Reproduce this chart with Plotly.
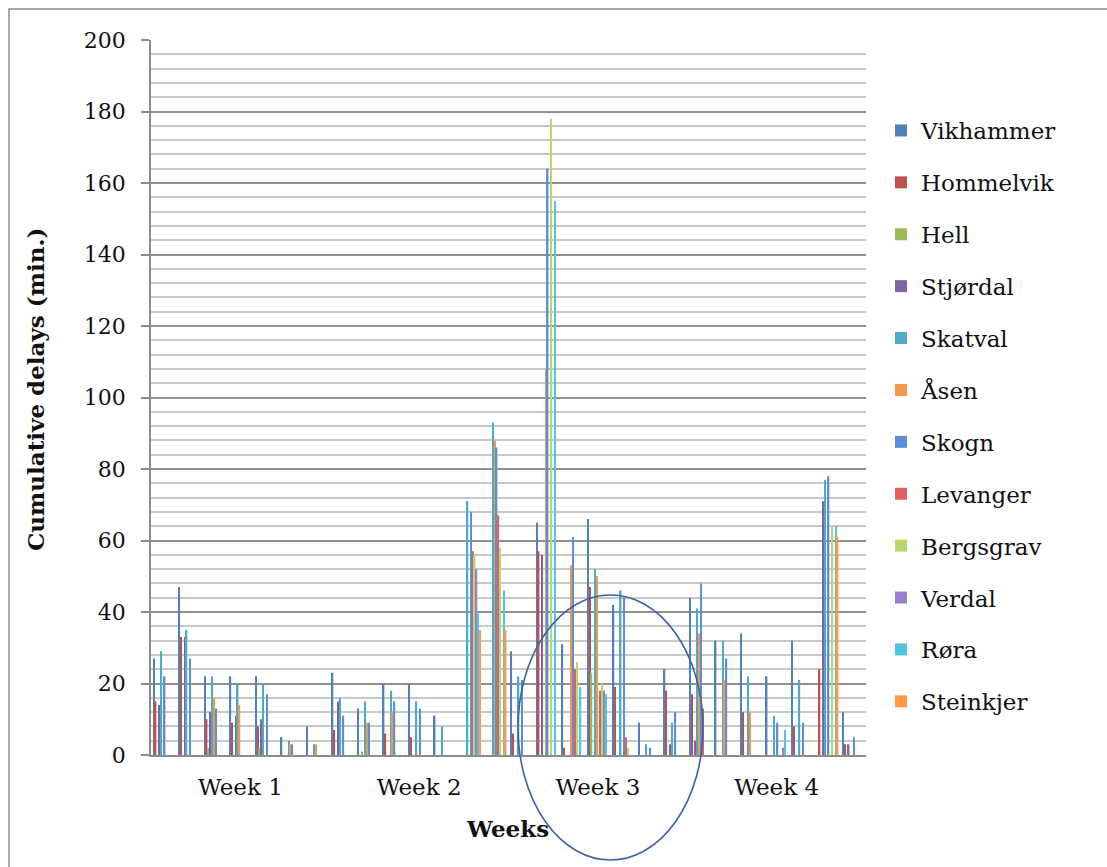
import plotly.graph_objects as go

# Four weeks, seven days each -> 28 day slots on the x axis
weeks = ["Week 1", "Week 2", "Week 3", "Week 4"]
days_per_week = 7
day_index = list(range(len(weeks) * days_per_week))

stations = ["Vikhammer", "Hommelvik", "Hell", "Stjørdal", "Skatval", "Åsen",
            "Skogn", "Levanger", "Bergsgrav", "Verdal", "Røra", "Steinkjer"]

# Cumulative delay (minutes) per station and day, week 1 .. week 4
vikhammer = [27, 47, 22, 22, 22, 5, 8,   23, 13, 20, 20, 11, 0, 0,
             29, 65, 31, 66, 42, 9, 24,  44, 32, 34, 22, 32, 0, 12]
hommelvik = [15, 33, 10, 9, 8, 0, 0,     7, 0, 6, 5, 0, 0, 0,
             6, 57, 2, 47, 19, 0, 18,    17, 0, 12, 0, 8, 24, 3]
hell = [0, 0, 2, 0, 2, 0, 0,             0, 1, 0, 0, 0, 0, 0,
        0, 0, 0, 23, 0, 0, 0,            0, 0, 0, 0, 0, 0, 0]
stjordal = [14, 33, 12, 11, 10, 0, 0,    15, 0, 0, 0, 0, 0, 0,
            0, 56, 0, 0, 0, 0, 3,        4, 0, 0, 0, 0, 71, 3]
skatval = [29, 35, 22, 20, 20, 4, 3,     16, 15, 18, 15, 8, 71, 93,
           22, 0, 0, 52, 46, 3, 9,       41, 32, 22, 11, 21, 77, 0]
asen = [0, 0, 16, 14, 0, 3, 3,           0, 9, 12, 0, 0, 0, 88,
        0, 108, 53, 50, 0, 0, 0,         34, 21, 12, 0, 0, 0, 0]
skogn = [22, 27, 13, 0, 17, 3, 0,        11, 9, 15, 13, 0, 68, 86,
         21, 164, 61, 0, 44, 2, 12,      48, 27, 0, 9, 9, 78, 5]
levanger = [0, 0, 0, 0, 0, 0, 0,         0, 0, 0, 0, 0, 57, 67,
            0, 0, 24, 18, 5, 0, 0,       13, 0, 0, 0, 0, 0, 0]
bergsgrav = [0, 0, 0, 0, 0, 0, 0,        0, 0, 0, 0, 0, 56, 58,
             0, 178, 26, 20, 2, 0, 0,    0, 0, 0, 0, 0, 64, 0]
verdal = [0, 0, 0, 0, 0, 0, 0,           0, 0, 0, 0, 0, 52, 0,
          0, 0, 0, 18, 0, 0, 0,          0, 0, 0, 2, 0, 0, 0]
rora = [0, 0, 0, 0, 0, 0, 0,             0, 0, 0, 0, 0, 40, 46,
        0, 155, 19, 17, 0, 0, 0,         0, 0, 0, 7, 0, 64, 0]
steinkjer = [0, 0, 0, 0, 0, 0, 0,        0, 0, 0, 0, 0, 35, 35,
             0, 0, 0, 0, 0, 0, 0,        0, 0, 0, 0, 0, 61, 0]

series = [vikhammer, hommelvik, hell, stjordal, skatval, asen,
          skogn, levanger, bergsgrav, verdal, rora, steinkjer]

colors = ["#4F81BD", "#C0504D", "#9BBB59", "#8064A2", "#4BACC6", "#F79646",
          "#5B8FD9", "#E06060", "#B7D76A", "#9A80CC", "#4FC6E4", "#FF9A40"]

FONT = "DejaVu Serif"

fig = go.Figure()
for name, vals, col in zip(stations, series, colors):
    fig.add_bar(x=day_index, y=vals, name=name, marker_color=col,
                marker_line_width=0, legendgroup=name)

# plot area in pixels: x 151..866, y 40..755
L, R, T, B = 151, 866, 40, 755
W, H = 1107, 867


def px(x):
    return (x - L) / (R - L)


def py(y):
    return (B - y) / (B - T)


fig.update_layout(
    width=W, height=H,
    margin=dict(l=L, r=W - R, t=T, b=H - B, autoexpand=False),
    paper_bgcolor="white", plot_bgcolor="white",
    barmode="group", bargap=0.15, bargroupgap=0.2,
    font=dict(family=FONT, size=22, color="#111111"),
    showlegend=True,
    legend=dict(x=px(881), y=py(109), xanchor="left", yanchor="top",
                font=dict(family=FONT, size=23, color="#111111"),
                tracegroupgap=19, bgcolor="rgba(0,0,0,0)"),
    xaxis=dict(range=[-0.5, len(day_index) - 0.5],
               tickvals=[days_per_week * i + 3 for i in range(len(weeks))],
               ticktext=weeks, ticks="", showgrid=False,
               showline=True, linecolor="#8c8c8c", linewidth=1.5,
               tickfont=dict(family=FONT, size=23), ticklabelstandoff=11,
               zeroline=False),
    yaxis=dict(range=[0, 200], dtick=20, tick0=0, ticks="outside", ticklen=8,
               tickcolor="#8c8c8c", tickwidth=1.5,
               showline=True, linecolor="#8c8c8c", linewidth=1.5,
               showgrid=True, gridcolor="#8f8f8f", gridwidth=1.5,
               minor=dict(dtick=4, showgrid=True, gridcolor="#c8c8c8",
                          gridwidth=1.5, ticks=""),
               tickfont=dict(family=FONT, size=22), ticklabelstandoff=11,
               zeroline=False),
    annotations=[
        dict(text="<b>Weeks</b>", xref="paper", yref="paper",
             x=px(507), y=py(828), xanchor="center", yanchor="middle",
             showarrow=False,
             font=dict(family=FONT, size=23, color="#111111")),
        dict(text="<b>Cumulative delays (min.)</b>", xref="paper", yref="paper",
             x=px(35), y=py(390), xanchor="center", yanchor="middle",
             showarrow=False, textangle=-90,
             font=dict(family=FONT, size=23, color="#111111")),
    ],
    shapes=[
        # chart frame
        dict(type="rect", xref="paper", yref="paper",
             x0=px(9), x1=px(1140), y0=py(900), y1=py(9),
             line=dict(color="#8a8a8a", width=1.5), layer="below"),
        # highlight around week 3
        dict(type="circle", xref="paper", yref="paper",
             x0=px(518), x1=px(703), y0=py(860), y1=py(595),
             line=dict(color="#3a65a5", width=1.6), layer="above"),
    ],
)

fig.write_html("out.html")
